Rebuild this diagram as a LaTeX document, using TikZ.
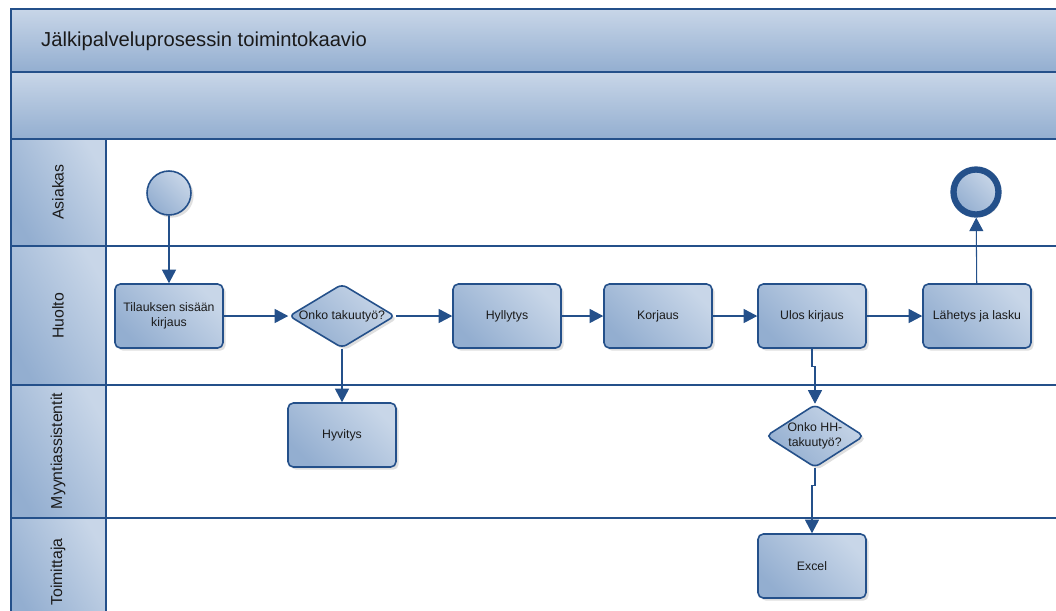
\documentclass[tikz,border=0pt]{standalone}
\usepackage{fontspec}
\setmainfont{Liberation Sans}
\usetikzlibrary{arrows.meta,shadows,shapes.geometric}
\definecolor{lnline}{HTML}{24508A}
\definecolor{lnlight}{HTML}{C8D6E8}
\definecolor{lndark}{HTML}{93AED0}
\definecolor{lntext}{HTML}{1A1A1A}
\tikzset{
  band/.style={draw=lnline,line width=1.2pt,top color=lnlight,bottom color=lndark},
  lanehead/.style={draw=lnline,line width=1.2pt,left color=lnlight,right color=lndark,shading angle=-60},
  lanebody/.style={draw=lnline,line width=1.2pt,fill=white},
  lanelabel/.style={rotate=90,font=\fontsize{9}{10}\selectfont,text=lntext},
  task/.style={rectangle,rounded corners=3pt,draw=lnline,line width=.9pt,top color=lnlight,bottom color=lndark,shading angle=-45,
    minimum width=2.16cm,minimum height=1.28cm,align=center,font=\fontsize{7}{8.5}\selectfont,text=lntext,
    drop shadow={opacity=.25,shadow xshift=1.5pt,shadow yshift=-1.5pt}},
  gate/.style={diamond,aspect=1.65,rounded corners=3pt,draw=lnline,line width=.9pt,top color=lnlight,bottom color=lndark,shading angle=-45,
    inner sep=0pt,minimum width=2.12cm,minimum height=1.28cm,align=center,font=\fontsize{7}{8.5}\selectfont,text=lntext,
    drop shadow={opacity=.25,shadow xshift=1.5pt,shadow yshift=-1.5pt}},
  startev/.style={circle,draw=lnline,line width=.9pt,top color=lnlight,bottom color=lndark,shading angle=-45,minimum size=.88cm,
    drop shadow={opacity=.25,shadow xshift=1.5pt,shadow yshift=-1.5pt}},
  endev/.style={circle,draw=lnline,line width=3.6pt,top color=lnlight,bottom color=lndark,shading angle=-45,minimum size=.9cm,
    drop shadow={opacity=.25,shadow xshift=1.5pt,shadow yshift=-1.5pt}},
  flow/.style={-{Triangle[length=2.7mm,width=2.8mm]},draw=lnline,line width=.6pt},
}
\begin{document}
\begin{tikzpicture}[x=0.02cm,y=-0.02cm,font=\sffamily]
  \useasboundingbox (0,0) rectangle (1056,610);
  \fill[white] (0,0) rectangle (1056,610);
  \path[band] (11,9) rectangle (1070,72);
  \node[anchor=west,font=\fontsize{11.5}{13}\selectfont,text=lntext] (title) at (35,41) {Jälkipalveluprosessin toimintokaavio};
  \path[band] (11,72) rectangle (1070,139);
  \path[lanebody] (106,139) rectangle (1070,246);
  \path[lanebody] (106,246) rectangle (1070,385);
  \path[lanebody] (106,385) rectangle (1070,518);
  \path[lanebody] (106,518) rectangle (1070,620);
  \path[lanehead] (11,139) rectangle (106,246);
  \path[lanehead] (11,246) rectangle (106,385);
  \path[lanehead] (11,385) rectangle (106,518);
  \path[lanehead] (11,518) rectangle (106,620);
  \node[lanelabel] (asiakas) at (58,192) {Asiakas};
  \node[lanelabel] (huolto) at (58,316) {Huolto};
  \node[lanelabel] (myynti) at (58,451) {Myyntiassistentit};
  \node[lanelabel] (toimittaja) at (58,572) {Toimittaja};

  \node[startev] (alku) at (169,193) {};
  \node[endev] (loppu) at (976,192) {};
  \node[task] (tilaus) at (169,316) {Tilauksen sisään\\kirjaus};
  \node[gate] (takuu) at (342,316) {Onko takuutyö?};
  \node[task] (hylly) at (507,316) {Hyllytys};
  \node[task] (korjaus) at (658,316) {Korjaus};
  \node[task] (ulos) at (812,316) {Ulos kirjaus};
  \node[task] (lahetys) at (977,316) {Lähetys ja lasku};
  \node[task] (hyvitys) at (342,435) {Hyvitys};
  \node[gate,minimum width=1.92cm,minimum height=1.26cm] (hhtakuu) at (815,436) {Onko HH-\\takuutyö?};
  \node[task] (excel) at (812,566) {Excel};

  \draw[flow] (alku) -- (tilaus);
  \draw[flow] (tilaus) -- (takuu);
  \draw[flow] (takuu) -- (hylly);
  \draw[flow] (takuu) -- (hyvitys);
  \draw[flow] (hylly) -- (korjaus);
  \draw[flow] (korjaus) -- (ulos);
  \draw[flow] (ulos) -- (lahetys);
  \draw[flow] (lahetys) -- (loppu);
  \draw[flow] (ulos.south) -- ++(0,18) -| (hhtakuu.north);
  \draw[flow] (hhtakuu.south) -- ++(0,17) -| (excel.north);
\end{tikzpicture}
\end{document}
